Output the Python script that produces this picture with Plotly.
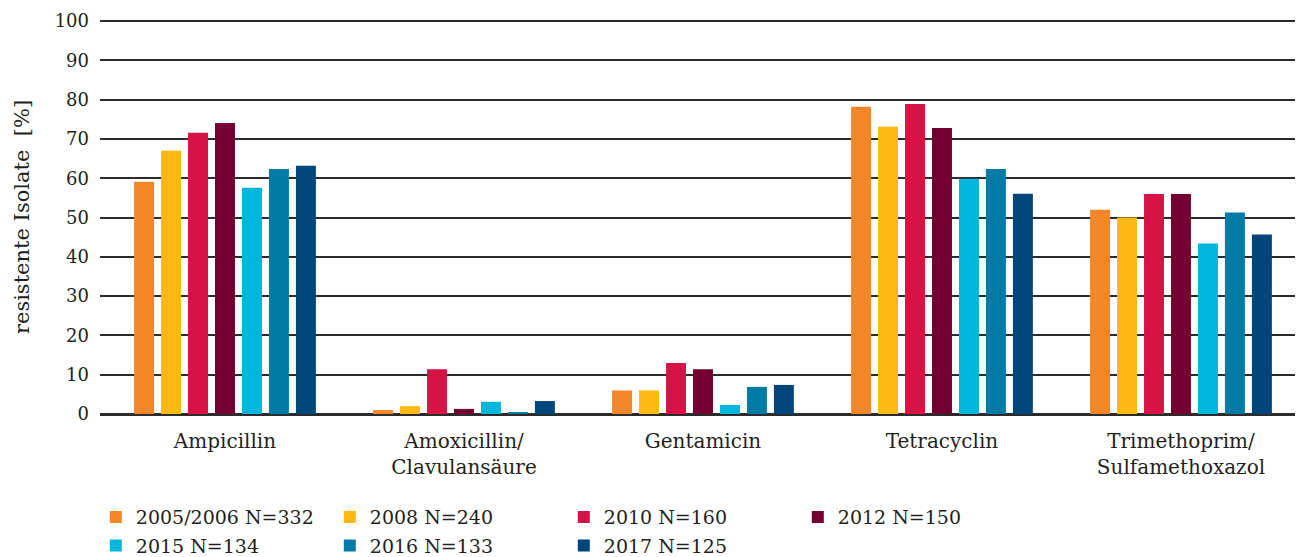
import plotly.graph_objects as go

categories = ["Ampicillin", "Amoxicillin/<br>Clavulansäure", "Gentamicin", "Tetracyclin",
              "Trimethoprim/<br>Sulfamethoxazol"]
series_names = ["2005/2006 N=332", "2008 N=240", "2010 N=160", "2012 N=150",
                "2015 N=134", "2016 N=133", "2017 N=125"]
v_2005 = [59.1, 1.0, 6.0, 78.2, 52.0]
v_2008 = [67.0, 2.0, 6.0, 73.1, 50.0]
v_2010 = [71.6, 11.4, 13.0, 78.9, 56.0]
v_2012 = [74.1, 1.3, 11.4, 72.8, 56.0]
v_2015 = [57.6, 3.1, 2.3, 59.9, 43.4]
v_2016 = [62.4, 0.3, 6.9, 62.4, 51.3]
v_2017 = [63.2, 3.3, 7.4, 56.1, 45.7]
values = [v_2005, v_2008, v_2010, v_2012, v_2015, v_2016, v_2017]
colors = ["#F4862A", "#FDB813", "#D71345", "#730030", "#00B5DE", "#007BA5", "#00467A"]
y_ticks = [0, 10, 20, 30, 40, 50, 60, 70, 80, 90, 100]

FONT = "DejaVu Serif"
TXT = "#231f20"

fig = go.Figure()
for i, (name, vals, col) in enumerate(zip(series_names, values, colors)):
    fig.add_trace(go.Bar(
        x=list(range(len(categories))), y=vals, name=name, marker_color=col,
        marker_line_width=0, legend="legend" if i < 4 else "legend2",
    ))

legend_common = dict(
    orientation="h", xanchor="left", yanchor="middle",
    font=dict(family=FONT, size=19, color=TXT),
    entrywidth=189, entrywidthmode="pixels",
    itemclick=False, itemdoubleclick=False, bgcolor="rgba(0,0,0,0)",
    tracegroupgap=0, itemsizing="constant",
)

fig.update_layout(
    width=1295, height=549,
    margin=dict(l=92, r=3, t=12, b=143, autoexpand=False),
    paper_bgcolor="white", plot_bgcolor="white",
    barmode="group", bargap=0.21, bargroupgap=0.26,
    font=dict(family=FONT, color=TXT),
    legend=dict(x=-0.0035, y=-0.262, **legend_common),
    legend2=dict(x=-0.0035, y=-0.334, **legend_common),
    xaxis=dict(
        tickmode="array", tickvals=list(range(len(categories))), ticktext=categories,
        range=[-0.523, 4.498], showgrid=False, zeroline=False, showline=False,
        tickfont=dict(family=FONT, size=20, color=TXT), ticks="", automargin=False,
        ticklabelstandoff=13,
    ),
    yaxis=dict(
        range=[0, 100.3], tickvals=y_ticks, showgrid=True, gridcolor="#2b2b2b", gridwidth=2,
        zeroline=True, zerolinecolor="#2b2b2b", zerolinewidth=2.5, showline=False,
        tickfont=dict(family=FONT, size=18, color=TXT), ticklabelstandoff=10, automargin=False,
        title=dict(text="resistente Isolate  [%]", font=dict(family=FONT, size=21, color=TXT),
                   standoff=19),
    ),
)

fig.write_html("out.html")
